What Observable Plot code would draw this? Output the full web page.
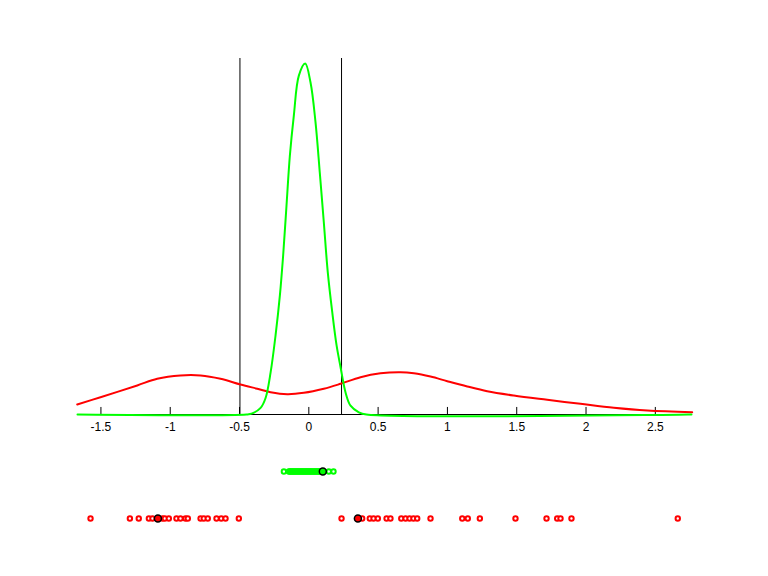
<!DOCTYPE html>
<html>
<head>
<meta charset="utf-8">
<script src="https://cdn.jsdelivr.net/npm/d3@7"></script>
<script src="https://cdn.jsdelivr.net/npm/@observablehq/plot@0.6"></script>
<style>
  html, body { margin: 0; padding: 0; background: #fff; }
  svg { display: block; }
</style>
</head>
<body>
<div id="chart"></div>
<script>
// ---- data ----
const greenCurveX = [-1.669, -0.45, -0.408, -0.348, -0.312, -0.276, -0.240, -0.209, -0.185, -0.161, -0.137, -0.108, -0.072, -0.026, 0.012, 0.048, 0.079, 0.108, 0.137, 0.169, 0.200, 0.229, 0.265, 0.301, 0.361, 0.416, 2.761];
const greenCurveY = [0, 0, 0.01, 0.06, 0.15, 0.38, 0.72, 1.08, 1.45, 1.90, 2.35, 2.72, 3.08, 3.19, 3.02, 2.66, 2.20, 1.75, 1.29, 0.93, 0.63, 0.43, 0.20, 0.08, 0.02, 0, 0];

const redCurveX = [-1.671, -1.503, -1.238, -1.094, -0.926, -0.781, -0.637, -0.493, -0.372, -0.276, -0.156, -0.036, 0.108, 0.229, 0.373, 0.517, 0.662, 0.758, 0.878, 0.999, 1.143, 1.287, 1.479, 1.720, 1.960, 2.201, 2.442, 2.766];
const redCurveY = [0.091, 0.157, 0.264, 0.325, 0.355, 0.355, 0.325, 0.273, 0.234, 0.203, 0.185, 0.197, 0.234, 0.279, 0.339, 0.375, 0.385, 0.375, 0.345, 0.303, 0.255, 0.212, 0.173, 0.134, 0.097, 0.061, 0.036, 0.021];

const greenPoints = [-0.180, -0.144, -0.137, -0.129, -0.121, -0.113, -0.106, -0.098, -0.090, -0.082, -0.075, -0.067, -0.059, -0.051, -0.044, -0.036, -0.028, -0.020, -0.013, -0.005, 0.003, 0.011, 0.018, 0.026, 0.034, 0.042, 0.049, 0.057, 0.065, 0.073, 0.080, 0.086, 0.144, 0.178];
const redPoints = [-1.575, -1.291, -1.227, -1.154, -1.128, -1.056, -1.039, -1.010, -0.955, -0.926, -0.890, -0.873, -0.781, -0.758, -0.729, -0.666, -0.632, -0.601, -0.505,
                   0.236, 0.385, 0.440, 0.467, 0.498, 0.561, 0.589, 0.667, 0.698, 0.727, 0.755, 0.782, 0.878, 1.107, 1.147, 1.234, 1.491, 1.715, 1.792, 1.816, 1.895, 2.662];
const greenMarked = [0.101];
const redMarked = [-1.089, 0.354];
const boundaryLines = [-0.497, 0.236];

const tickValues = [-1.5, -1, -0.5, 0, 0.5, 1, 1.5, 2, 2.5];
const tickLabels = ["-1.5", "-1", "-0.5", "0", "0.5", "1", "1.5", "2", "2.5"];

const xDomain = [-1.669, 2.761];
const yDomain = [0, 3.236];
const greenRowY = -0.518;
const redRowY = -0.945;

// ---- build ----
const greenCurve = greenCurveX.map((x, i) => ({x, y: greenCurveY[i]}));
const redCurve = redCurveX.map((x, i) => ({x, y: redCurveY[i]}));
const ticks = tickValues.map((v, i) => ({x: v, label: tickLabels[i]}));

const chart = Plot.plot({
  width: 768,
  height: 576,
  marginLeft: 77,
  marginRight: 77,
  marginTop: 58,
  marginBottom: 162,
  style: {background: "#fff", fontFamily: "'Liberation Sans', Arial, sans-serif", fontSize: "12px", color: "#000"},
  x: {domain: xDomain, axis: null},
  y: {domain: yDomain, axis: null},
  marks: [
    // vertical boundary lines
    Plot.ruleX(boundaryLines, {x: d => d, y1: yDomain[0], y2: yDomain[1], stroke: "#000", strokeWidth: 1}),
    // axis baseline
    Plot.ruleY([0], {x1: xDomain[0], x2: xDomain[1], stroke: "#000", strokeWidth: 1.2}),
    // tick marks pointing up
    Plot.ruleX(ticks, {x: "x", y1: ticks.map(() => 0), y2: ticks.map(() => 0.064), stroke: "#000", strokeWidth: 1}),
    // tick labels
    Plot.text(ticks, {x: "x", y: ticks.map(() => 0), dy: 13, text: "label", fill: "#000", fontSize: 12, lineAnchor: "middle"}),
    // curves
    Plot.line(redCurve, {x: "x", y: "y", stroke: "#ff0000", strokeWidth: 2, curve: "catmull-rom"}),
    Plot.line(greenCurve, {x: "x", y: "y", stroke: "#00ff00", strokeWidth: 2, curve: "catmull-rom"}),
    // sample points rows
    Plot.dot(greenPoints, {x: d => d, y: greenPoints.map(() => greenRowY), r: 2.2, stroke: "#00ff00", strokeWidth: 2, fill: "#ffffff"}),
    Plot.dot(greenMarked, {x: d => d, y: greenMarked.map(() => greenRowY), r: 3.5, stroke: "#000", strokeWidth: 1.5, fill: "#00ff00"}),
    Plot.dot(redPoints, {x: d => d, y: redPoints.map(() => redRowY), r: 2.2, stroke: "#ff0000", strokeWidth: 2, fill: "#ffffff"}),
    Plot.dot(redMarked, {x: d => d, y: redMarked.map(() => redRowY), r: 3.5, stroke: "#000", strokeWidth: 1.5, fill: "#ff0000"})
  ]
});
document.getElementById("chart").appendChild(chart);
</script>
</body>
</html>
